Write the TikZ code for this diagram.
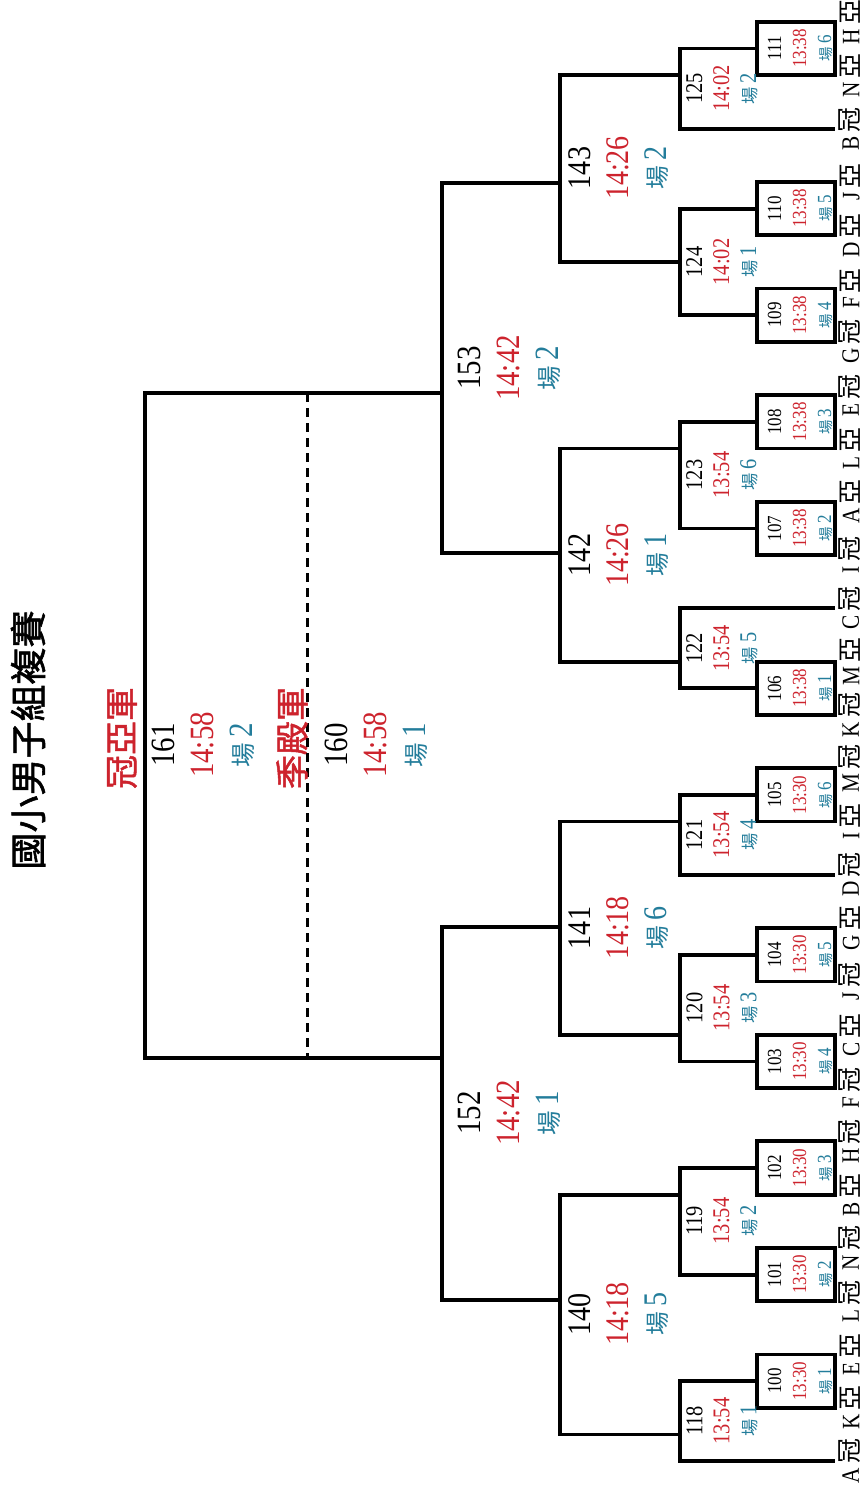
\documentclass[tikz,border=0pt]{standalone}
\usepackage{fontspec}
\setmainfont{Liberation Serif}[FakeStretch=0.85]
\newfontfamily\cjk{Noto Sans CJK TC}
\newfontfamily\cjksm{Noto Sans CJK TC}[Scale=0.72]
\newfontfamily\cjkbf{Noto Sans CJK TC}[FakeBold=1.5]
\usepackage{xcolor}
\usepackage{tikz}
\definecolor{clock}{RGB}{205,35,45}
\definecolor{court}{RGB}{35,125,155}
\newcommand\gametext[3]{#1\\{\color{clock}#2}\\{\color{court}{\cjksm 場}\,#3}}

\begin{document}
\begin{tikzpicture}[
  x=1pt, y=-1pt,
  bracket/.style={line width=3.8pt},
  third/.style={line width=3pt, dash pattern=on 9pt off 6pt},
  game/.style={rotate=90, align=center, inner sep=0pt},
  rone/.style={game, font=\fontsize{20}{25}\selectfont},
  rtwo/.style={game, font=\fontsize{24}{27}\selectfont},
  rthree/.style={game, font=\fontsize{33}{38}\selectfont},
  rfour/.style={game, font=\fontsize{34}{39}\selectfont},
  team/.style={rotate=90, inner sep=0pt, font=\fontsize{25}{25}\selectfont},
  banner/.style={rotate=90, inner sep=0pt, text=clock, font=\fontsize{34}{34}\selectfont\cjkbf}
]
  \path[use as bounding box, fill=white] (0,0) rectangle (867,1488);

  % teams down the right side
  \foreach \i/\g/\r in {0/H/亞,1/N/亞,2/B/冠,3/J/亞,4/D/亞,5/F/亞,6/G/冠,7/E/冠,
      8/L/亞,9/A/亞,10/I/冠,11/C/冠,12/M/亞,13/K/冠,14/M/冠,15/I/亞,16/D/冠,
      17/G/亞,18/J/冠,19/C/亞,20/F/冠,21/H/冠,22/B/亞,23/N/冠,24/L/冠,25/E/亞,
      26/K/亞,27/A/冠}{
    \coordinate (e\i) at (835,{22+53.3*\i});
    \node[team] (t\i) at (850,{22+53.3*\i}) {\g\hskip4pt{\cjk\r}};
  }

  % first round
  \coordinate (m111) at (757,48.6);
  \coordinate (m110) at (757,208.6);
  \coordinate (m109) at (757,315.2);
  \coordinate (m108) at (757,421.8);
  \coordinate (m107) at (757,528.4);
  \coordinate (m106) at (757,688.3);
  \coordinate (m105) at (757,794.9);
  \coordinate (m104) at (757,954.8);
  \coordinate (m103) at (757,1061.4);
  \coordinate (m102) at (757,1168);
  \coordinate (m101) at (757,1274.6);
  \coordinate (m100) at (757,1381.2);
  % second round
  \coordinate (m125) at (680,75.3);
  \coordinate (m124) at (680,262);
  \coordinate (m123) at (680,448.4);
  \coordinate (m122) at (680,661.6);
  \coordinate (m121) at (680,821.5);
  \coordinate (m120) at (680,1034.7);
  \coordinate (m119) at (680,1194.6);
  \coordinate (m118) at (680,1434.5);
  % third round, semis, finals
  \coordinate (m143) at (560,183);
  \coordinate (m142) at (560,553);
  \coordinate (m141) at (560,927);
  \coordinate (m140) at (560,1300);
  \coordinate (m153) at (442,393);
  \coordinate (m152) at (442,1058);
  \coordinate (m161) at (145,725);
  \coordinate (m160) at (307,725);

  \draw[bracket] (e0) -| (m111) |- (e1) -- cycle;
  \draw[bracket] (e3) -| (m110) |- (e4) -- cycle;
  \draw[bracket] (e5) -| (m109) |- (e6) -- cycle;
  \draw[bracket] (e7) -| (m108) |- (e8) -- cycle;
  \draw[bracket] (e9) -| (m107) |- (e10) -- cycle;
  \draw[bracket] (e12) -| (m106) |- (e13) -- cycle;
  \draw[bracket] (e14) -| (m105) |- (e15) -- cycle;
  \draw[bracket] (e17) -| (m104) |- (e18) -- cycle;
  \draw[bracket] (e19) -| (m103) |- (e20) -- cycle;
  \draw[bracket] (e21) -| (m102) |- (e22) -- cycle;
  \draw[bracket] (e23) -| (m101) |- (e24) -- cycle;
  \draw[bracket] (e25) -| (m100) |- (e26) -- cycle;

  \draw[bracket] (m111) -| (m125) |- (e2);
  \draw[bracket] (m110) -| (m124) |- (m109);
  \draw[bracket] (m108) -| (m123) |- (m107);
  \draw[bracket] (e11) -| (m122) |- (m106);
  \draw[bracket] (m105) -| (m121) |- (e16);
  \draw[bracket] (m104) -| (m120) |- (m103);
  \draw[bracket] (m102) -| (m119) |- (m101);
  \draw[bracket] (m100) -| (m118) |- (e27);

  \draw[bracket] (m125) -| (m143) |- (m124);
  \draw[bracket] (m123) -| (m142) |- (m122);
  \draw[bracket] (m121) -| (m141) |- (m120);
  \draw[bracket] (m119) -| (m140) |- (m118);
  \draw[bracket] (m143) -| (m153) |- (m142);
  \draw[bracket] (m141) -| (m152) |- (m140);
  \draw[bracket] (m153) -| (m161) |- (m152);
  \draw[third] (m153 -| m160) -- (m152 -| m160);

  % match labels
  \node[rone] (g111) at (800,48.6) {\gametext{111}{13:38}{6}};
  \node[rone] (g110) at (800,208.6) {\gametext{110}{13:38}{5}};
  \node[rone] (g109) at (800,315.2) {\gametext{109}{13:38}{4}};
  \node[rone] (g108) at (800,421.8) {\gametext{108}{13:38}{3}};
  \node[rone] (g107) at (800,528.4) {\gametext{107}{13:38}{2}};
  \node[rone] (g106) at (800,688.3) {\gametext{106}{13:38}{1}};
  \node[rone] (g105) at (800,794.9) {\gametext{105}{13:30}{6}};
  \node[rone] (g104) at (800,954.8) {\gametext{104}{13:30}{5}};
  \node[rone] (g103) at (800,1061.4) {\gametext{103}{13:30}{4}};
  \node[rone] (g102) at (800,1168) {\gametext{102}{13:30}{3}};
  \node[rone] (g101) at (800,1274.6) {\gametext{101}{13:30}{2}};
  \node[rone] (g100) at (800,1381.2) {\gametext{100}{13:30}{1}};

  \node[rtwo] (g125) at (722,88.6) {\gametext{125}{14:02}{2}};
  \node[rtwo] (g124) at (722,262) {\gametext{124}{14:02}{1}};
  \node[rtwo] (g123) at (722,475) {\gametext{123}{13:54}{6}};
  \node[rtwo] (g122) at (722,648.3) {\gametext{122}{13:54}{5}};
  \node[rtwo] (g121) at (722,835) {\gametext{121}{13:54}{4}};
  \node[rtwo] (g120) at (722,1008) {\gametext{120}{13:54}{3}};
  \node[rtwo] (g119) at (722,1221) {\gametext{119}{13:54}{2}};
  \node[rtwo] (g118) at (722,1421) {\gametext{118}{13:54}{1}};

  \node[rthree] (g143) at (619,168) {\gametext{143}{14:26}{2}};
  \node[rthree] (g142) at (619,555) {\gametext{142}{14:26}{1}};
  \node[rthree] (g141) at (619,928) {\gametext{141}{14:18}{6}};
  \node[rthree] (g140) at (619,1314) {\gametext{140}{14:18}{5}};

  \node[rfour] (g153) at (509,368) {\gametext{153}{14:42}{2}};
  \node[rfour] (g152) at (509,1113) {\gametext{152}{14:42}{1}};
  \node[rfour] (g161) at (203,745) {\gametext{161}{14:58}{2}};
  \node[rfour] (g160) at (376,745) {\gametext{160}{14:58}{1}};

  \node[banner] (final) at (122,738) {冠亞軍};
  \node[banner] (bronze) at (292,738) {季殿軍};
  \node[rotate=90, inner sep=0pt, font=\fontsize{37}{37}\selectfont\cjkbf] (title) at (28,740) {國小男子組複賽};
\end{tikzpicture}
\end{document}
